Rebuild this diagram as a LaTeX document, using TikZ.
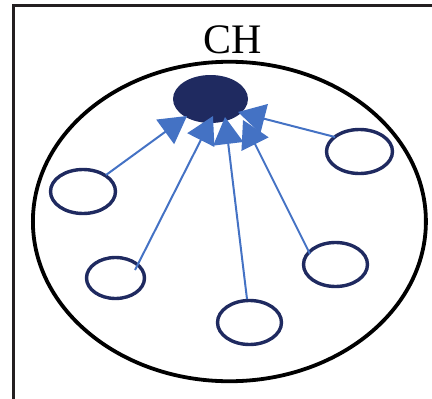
\documentclass[tikz,border=0pt]{standalone}
\usepackage{fontspec}
\setmainfont{Liberation Serif}
\usetikzlibrary{shapes.geometric,arrows.meta,calc}
\definecolor{navy}{HTML}{1F2A60}
\definecolor{arrowblue}{HTML}{4472C4}
\definecolor{framegray}{HTML}{231F20}
\tikzset{
  member/.style={ellipse, draw=navy, line width=3.4pt, inner sep=0pt, fill=white},
  headnode/.style={ellipse, fill=navy, draw=none, inner sep=0pt, minimum width=75pt, minimum height=48pt},
  link/.style={draw=arrowblue, line width=2pt, -{Triangle[length=27pt,width=30pt]}, arrowblue},
  clusterline/.style={ellipse, draw=black, line width=3.8pt, inner sep=0pt}
}
\begin{document}
\begin{tikzpicture}[x=1pt,y=-1pt]
\useasboundingbox (0,0) rectangle (432,399);
% frame
\draw[framegray, line width=2.4pt] (432,5.5) -- (13.5,5.5) -- (13.5,399);
% cluster
\node[clusterline, minimum width=393pt, minimum height=319.5pt] (cluster) at (229.4,221.5) {};
% label
\node[anchor=base, inner sep=0pt, font=\fontsize{42}{42}\selectfont] (chlabel) at (232.5,53) {CH};
% members
\node[member, minimum width=65pt, minimum height=44pt] (s1) at (83,191.5) {};
\node[member, minimum width=58pt, minimum height=41pt] (s2) at (115.5,278) {};
\node[member, minimum width=64pt, minimum height=44pt] (s3) at (249.5,322.5) {};
\node[member, minimum width=64pt, minimum height=44pt] (s4) at (335.5,264.5) {};
\node[member, minimum width=66pt, minimum height=44pt] (s5) at (359.5,151.5) {};
% cluster head
\node[headnode] (ch) at (210.5,99) {};
% links
\draw[link] ($(s1.center)+(23,-16.5)$) -- ($(ch.center)+(-23.5,17)$);
\draw[link] ($(s2.center)+(19.5,-8)$) -- ($(ch.center)+(2.5,17)$);
\draw[link] ($(s3.center)+(-2.5,-23.5)$) -- ($(ch.center)+(14.5,18)$);
\draw[link] ($(s4.center)+(-25.5,-10.5)$) -- ($(ch.center)+(32.5,21)$);
\draw[link] ($(s5.center)+(-24.5,-14.5)$) -- ($(ch.center)+(27.5,13)$);
\end{tikzpicture}
\end{document}
